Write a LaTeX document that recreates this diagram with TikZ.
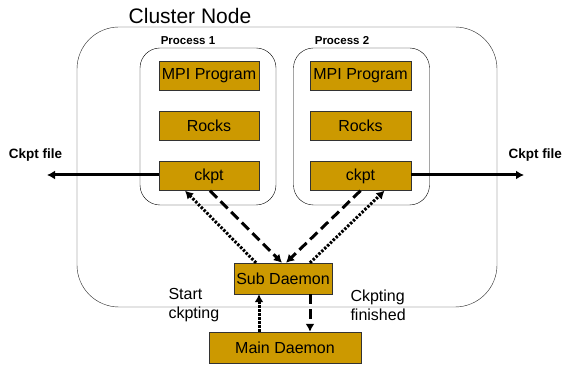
\documentclass[tikz,border=0pt]{standalone}
\usepackage{fontspec}
\setmainfont{Liberation Sans}
\usetikzlibrary{arrows.meta}

\definecolor{gold}{RGB}{204,153,0}

\tikzset{
    unit/.style={draw=black!80,fill=gold,inner sep=0pt,minimum height=29pt,
        font=\fontsize{16}{16}\selectfont},
    daemon/.style={unit,minimum height=31pt},
    proc/.style={draw,rounded corners=20pt,minimum width=136pt,minimum height=157pt},
    tag/.style={font=\fontsize{11.5}{12}\bfseries},
    filearrow/.style={line width=3pt,-{Latex[length=8pt,width=9pt]}},
    dasharrow/.style={line width=3pt,dash pattern=on 10pt off 5pt,-{Latex[length=8pt,width=9pt]}},
    dotarrow/.style={line width=3pt,dash pattern=on 2.4pt off 1.6pt,-{Latex[length=8pt,width=9pt]}}
}

\begin{document}
\begin{tikzpicture}[x=1pt,y=-1pt]

\useasboundingbox (0,0) rectangle (566,366);

% the node and its two processes
\draw[black!85,rounded corners=42pt] (77,27) rectangle (497,307);
\node[font=\fontsize{21}{21}\selectfont] (title) at (190,16) {Cluster Node};

\node[proc] (proc1) at (208,126.5) {};
\node[proc] (proc2) at (361.5,126.5) {};
\node[tag] (tag1) at (188,41) {Process 1};
\node[tag] (tag2) at (342,41) {Process 2};

\node[unit,minimum width=100pt] (mpi1)  at (209,75.5) {MPI Program};
\node[unit,minimum width=100pt] (rocks1) at (209,126) {Rocks};
\node[unit,minimum width=100pt] (ckpt1) at (209,176) {ckpt};

\node[unit,minimum width=101pt] (mpi2)  at (360.5,75.5) {MPI Program};
\node[unit,minimum width=101pt] (rocks2) at (360.5,126) {Rocks};
\node[unit,minimum width=101pt] (ckpt2) at (360.5,176) {ckpt};

\node[daemon,minimum width=98pt] (sub) at (283,278.5) {Sub Daemon};
\node[daemon,minimum width=152pt] (main) at (285,347.5) {Main Daemon};

% checkpoint files
\path (47,175) coordinate (outl) (524,175) coordinate (outr);
\node[font=\fontsize{13.5}{14}\bfseries] (filel) at (35.5,155) {Ckpt file};
\node[font=\fontsize{13.5}{14}\bfseries,anchor=east] (filer) at (565.5,155) {Ckpt file};
\draw[filearrow] (ckpt1.west |- outl) -- (outl);
\draw[filearrow] (ckpt2.east |- outr) -- (outr);

% sub daemon <-> ckpt
\draw[dotarrow] ([xshift=-27pt]sub.north) -- ([xshift=-24pt]ckpt1.south);
\draw[dasharrow] ([xshift=1pt]ckpt1.south) -- ([xshift=-1pt]sub.north);
\draw[dasharrow] ([xshift=0pt]ckpt2.south) -- ([xshift=3pt]sub.north);
\draw[dotarrow] ([xshift=27pt]sub.north) -- ([xshift=24pt]ckpt2.south);

% sub daemon <-> main daemon
\coordinate (up) at ([xshift=-24pt]sub.south);
\coordinate (down) at ([xshift=27pt]sub.south);
\draw[dotarrow] (up |- main.north) -- (up);
\draw[dasharrow] (down) -- (down |- main.north);

\node[anchor=west,align=left,font=\fontsize{16}{19}\selectfont] (start) at (165,305.5) {Start\\ckpting};
\node[anchor=west,align=left,font=\fontsize{16}{19}\selectfont] (done) at (347,305.5) {Ckpting\\finished};

\end{tikzpicture}
\end{document}
